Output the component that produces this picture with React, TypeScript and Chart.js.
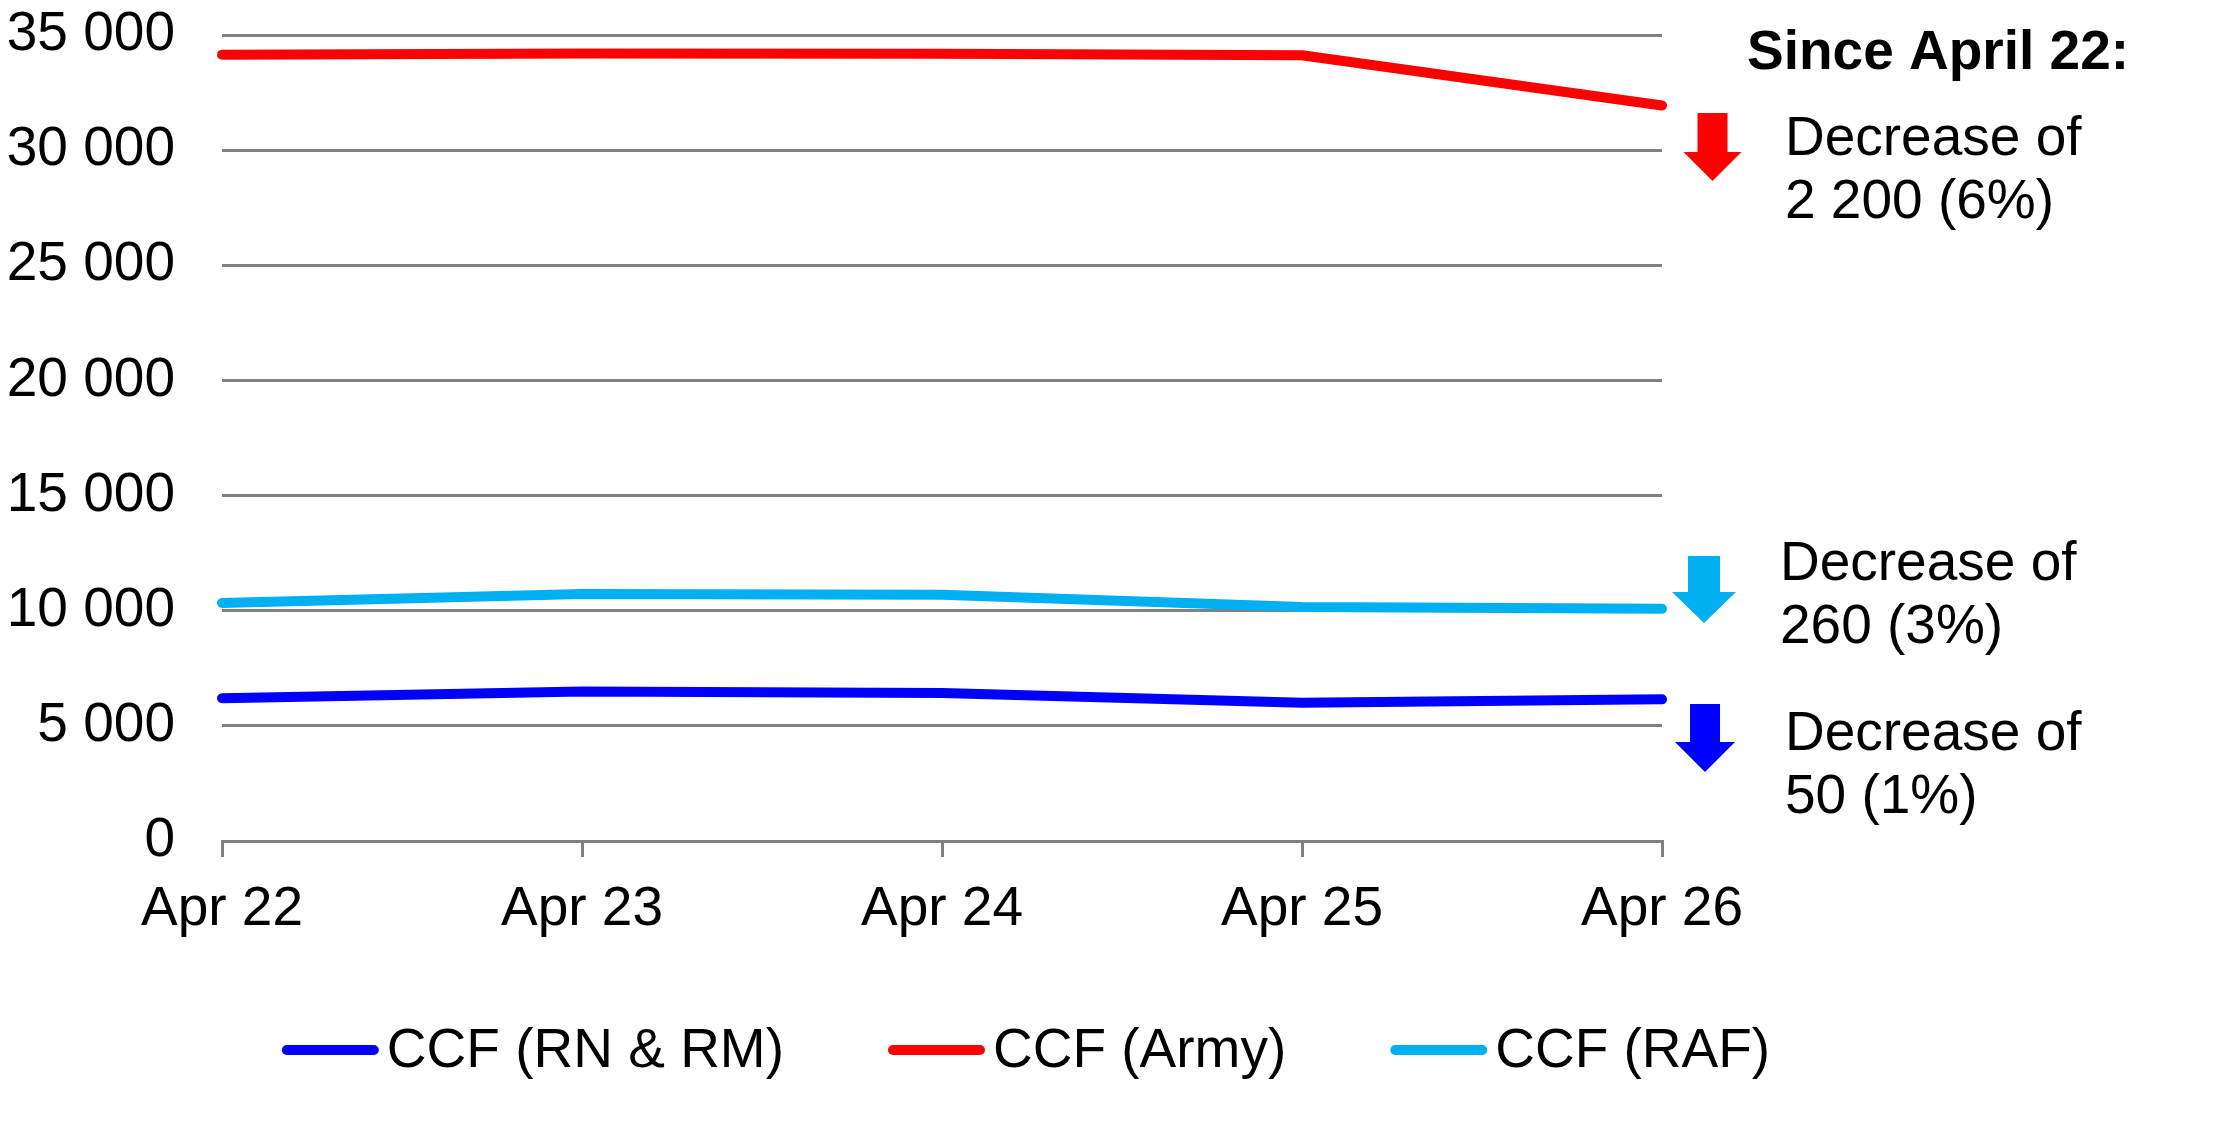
import React, { useEffect, useRef } from 'react';
import { Chart, registerables, Plugin } from 'chart.js';

Chart.register(...registerables);

const FONT = '"Liberation Sans", Arial, Helvetica, sans-serif';

// values
const days = ['Apr 22', 'Apr 23', 'Apr 24', 'Apr 25', 'Apr 26'];
const rnRm = [6200, 6490, 6430, 6000, 6150];
const army = [34140, 34200, 34190, 34120, 31940];
const raf = [10340, 10730, 10690, 10160, 10080];

const seriesNames = ['CCF (RN & RM)', 'CCF (Army)', 'CCF (RAF)'];
const seriesColors = ['#0000FF', '#FF0000', '#00B0F0'];

const yMax = 35000;
const yStep = 5000;

const sinceTitle = 'Since April 22:';
const armyNote = ['Decrease of', '2 200 (6%)'];
const rafNote = ['Decrease of', '260 (3%)'];
const rnRmNote = ['Decrease of', '50 (1%)'];

const fmt = (v: number) => String(v).replace(/\B(?=(\d{3})+(?!\d))/g, ' ');

function drawArrow(
  ctx: CanvasRenderingContext2D,
  cx: number,
  top: number,
  headTop: number,
  tip: number,
  shaftW: number,
  headW: number,
  color: string
) {
  ctx.beginPath();
  ctx.moveTo(cx - shaftW / 2, top);
  ctx.lineTo(cx + shaftW / 2, top);
  ctx.lineTo(cx + shaftW / 2, headTop);
  ctx.lineTo(cx + headW / 2, headTop);
  ctx.lineTo(cx, tip);
  ctx.lineTo(cx - headW / 2, headTop);
  ctx.lineTo(cx - shaftW / 2, headTop);
  ctx.closePath();
  ctx.fillStyle = color;
  ctx.fill();
}

const sidePlugin: Plugin<'line'> = {
  id: 'sideNotes',
  afterDraw(chart) {
    const { ctx, chartArea } = chart;
    const r = chartArea.right;
    ctx.save();
    ctx.textAlign = 'left';
    ctx.textBaseline = 'alphabetic';
    ctx.fillStyle = '#000';

    ctx.font = `bold 55px ${FONT}`;
    ctx.fillText(sinceTitle, r + 85, 69);

    ctx.font = `55px ${FONT}`;
    const notes = [
      { lines: armyNote, color: seriesColors[1], x: r + 123, y: 155, ax: r + 50.5, a: [113, 152, 181, 30, 58] },
      { lines: rafNote, color: seriesColors[2], x: r + 118, y: 580, ax: r + 42, a: [556, 592, 623, 32, 64] },
      { lines: rnRmNote, color: seriesColors[0], x: r + 123, y: 750, ax: r + 43, a: [704, 742, 772, 30, 60] },
    ];
    notes.forEach((n) => {
      drawArrow(ctx, n.ax, n.a[0], n.a[1], n.a[2], n.a[3], n.a[4], n.color);
      ctx.fillStyle = '#000';
      n.lines.forEach((t, i) => ctx.fillText(t, n.x, n.y + i * 63));
    });

    // legend
    const lineLen = 97;
    const gapText = 8;
    const gapItem = 104;
    const ds = chart.data.datasets;
    const widths = ds.map((d) => ctx.measureText(String(d.label)).width);
    const total =
      widths.reduce((s, w) => s + lineLen + gapText + w, 0) + gapItem * (ds.length - 1);
    let x = 1026 - total / 2;
    const ly = 1050;
    ds.forEach((d, i) => {
      ctx.beginPath();
      ctx.lineCap = 'round';
      ctx.lineWidth = 10;
      ctx.strokeStyle = String(d.borderColor);
      ctx.moveTo(x + 5, ly);
      ctx.lineTo(x + lineLen - 5, ly);
      ctx.stroke();
      ctx.fillStyle = '#000';
      ctx.fillText(String(d.label), x + lineLen + gapText, 1067);
      x += lineLen + gapText + widths[i] + gapItem;
    });
    ctx.restore();
  },
};

const LineChart: React.FC = () => {
  const canvasRef = useRef<HTMLCanvasElement | null>(null);
  const chartRef = useRef<Chart | null>(null);

  useEffect(() => {
    if (!canvasRef.current) return;
    chartRef.current?.destroy();

    const values = [rnRm, army, raf];
    chartRef.current = new Chart(canvasRef.current, {
      type: 'line',
      data: {
        labels: days,
        datasets: values.map((v, i) => ({
          label: seriesNames[i],
          data: v,
          borderColor: seriesColors[i],
          backgroundColor: seriesColors[i],
          borderWidth: 10,
          borderCapStyle: 'round' as const,
          borderJoinStyle: 'round' as const,
          pointRadius: 0,
          tension: 0,
          fill: false,
        })),
      },
      options: {
        animation: false,
        responsive: false,
        layout: { padding: { top: 35, right: 574, left: 0, bottom: 0 } },
        plugins: {
          legend: { display: false },
          tooltip: { enabled: false },
        },
        scales: {
          x: {
            offset: false,
            grid: {
              drawOnChartArea: false,
              drawTicks: true,
              tickLength: 16,
              color: '#808080',
              lineWidth: 3,
            },
            border: { display: true, color: '#808080', width: 3 },
            ticks: {
              color: '#000',
              padding: 20,
              font: { family: FONT, size: 55 },
              maxRotation: 0,
            },
            afterFit: (scale) => {
              scale.height = 284;
            },
          },
          y: {
            min: 0,
            max: yMax,
            // invisible tick marks stand in for the label gap (tick padding would also pad the top)
            grid: {
              color: '#808080',
              lineWidth: 3,
              drawTicks: true,
              tickLength: 47,
              tickColor: 'rgba(0,0,0,0)',
            },
            border: { display: false },
            ticks: {
              stepSize: yStep,
              color: '#000',
              padding: 0,
              font: { family: FONT, size: 55 },
              callback: (v) => fmt(Number(v)),
            },
            afterFit: (scale) => {
              scale.width = 222;
            },
          },
        },
      },
      plugins: [sidePlugin],
    });

    return () => {
      chartRef.current?.destroy();
      chartRef.current = null;
    };
  }, []);

  return <canvas ref={canvasRef} width={2236} height={1125} />;
};

export default function App() {
  return (
    <div style={{ position: 'absolute', left: 0, top: 0, width: 2236, height: 1125, background: '#fff' }}>
      <LineChart />
    </div>
  );
}
